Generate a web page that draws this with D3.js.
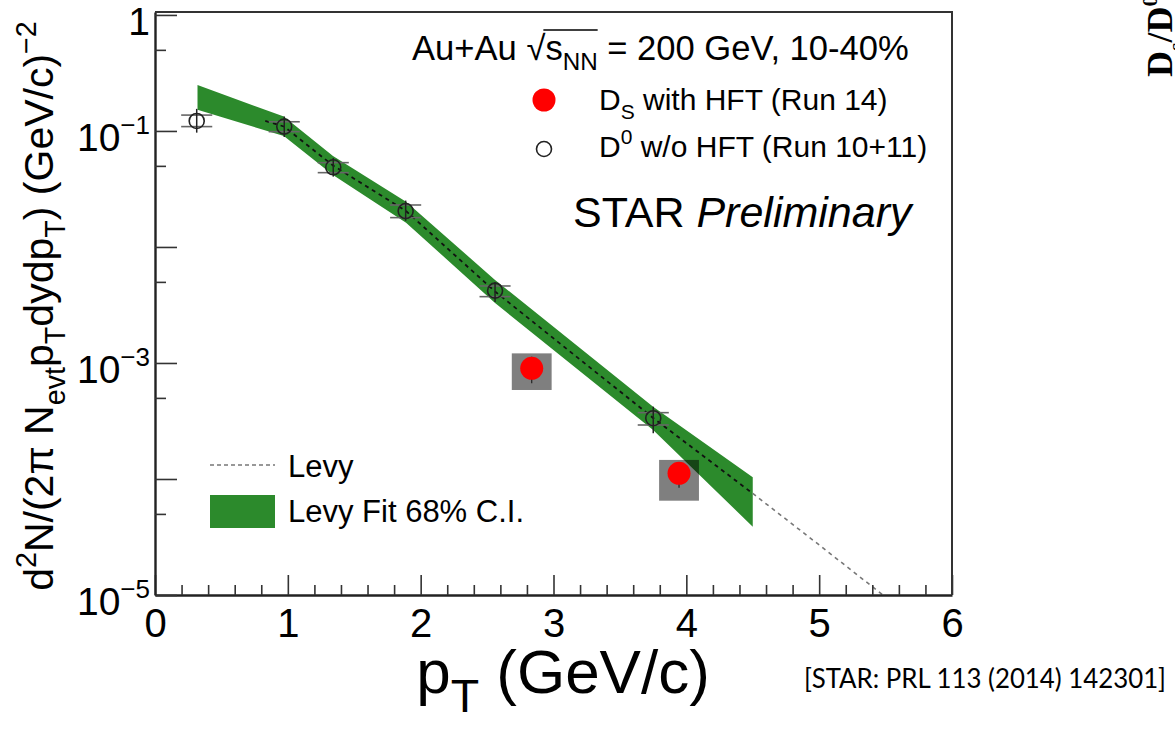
<!DOCTYPE html>
<html>
<head>
<meta charset="utf-8">
<script src="https://cdn.jsdelivr.net/npm/d3@7"></script>
<style>
  body { margin: 0; background: #fff; }
  svg { display: block; background: #fff; }
</style>
</head>
<body>
<svg id="chart" width="1175" height="730"></svg>
<script>
// ---- D0 without HFT (Run 10+11): open circles ----
const d0Pt      = [0.314, 0.973, 1.342, 1.887, 2.560, 3.751];
const d0Val     = [0.122, 0.109, 0.0486, 0.0204, 0.00420, 3.34e-4];
const d0StatHi  = [0.155, 0.133, 0.0585, 0.0251, 0.00499, 4.20e-4];
const d0StatLo  = [0.0967, 0.0886, 0.0404, 0.0168, 0.00336, 2.48e-4];
const d0SysHi   = [0.137, 0.120, 0.0533, 0.0230, 0.00461, 3.73e-4];
const d0SysLo   = [0.109, 0.0986, 0.0437, 0.0179, 0.00373, 2.92e-4];

// ---- Ds with HFT (Run 14): red dots with systematic boxes ----
const dsPt      = [2.836, 3.945];
const dsVal     = [9.0e-4, 1.12e-4];
const dsStatHi  = [1.13e-3, 1.40e-4];
const dsStatLo  = [6.7e-4, 8.4e-5];
const dsSysHi   = [1.21e-3, 1.46e-4];
const dsSysLo   = [5.85e-4, 6.5e-5];

// ---- Levy fit: 68% confidence band ----
const bandPt    = [0.32, 0.97, 1.34, 1.89, 2.56, 3.75, 4.5];
const bandHi    = [0.249, 0.133, 0.0609, 0.0245, 0.00520, 4.20e-4, 1.035e-4];
const bandLo    = [0.152, 0.0905, 0.0418, 0.0162, 0.00329, 2.64e-4, 3.88e-5];

// ---- Levy function curve ----
const levyPt    = [0.83, 0.97, 1.34, 1.89, 2.56, 3.1, 3.75, 4.5, 5.0, 5.48];
const levyVal   = [0.122, 0.1093, 0.0504, 0.0204, 0.00413, 1.32e-3, 3.36e-4, 7.5e-5, 2.7e-5, 1.0e-5];

// ---- axes ----
const xTicks      = [0, 1, 2, 3, 4, 5, 6];
const xTickLabels = ["0", "1", "2", "3", "4", "5", "6"];
const yTicks      = [1, 1e-1, 1e-2, 1e-3, 1e-4, 1e-5];
const yMinorTicks = [0.5, 0.05, 0.005, 5e-4, 5e-5];
const yLabelVals  = [1, 1e-1, 1e-3, 1e-5];
const yLabelExp   = [null, "\u22121", "\u22123", "\u22125"];

const FONT = '"Liberation Sans", Arial, Helvetica, sans-serif';
const GREEN = "#2c8a2c";

const svg = d3.select("#chart");
const box = { left: 155, right: 952, top: 12, bottom: 595 };

const x = d3.scaleLinear().domain([0, 6]).range([box.left, box.right]);
const y = d3.scaleLog().domain([1e-5, 1.06]).range([box.bottom, box.top]);

svg.append("defs").append("clipPath").attr("id", "plotClip")
  .append("rect")
  .attr("x", box.left).attr("y", box.top)
  .attr("width", box.right - box.left).attr("height", box.bottom - box.top);

// rich text helper: parts = [[text, "sub"|"sup"|undefined], ...]
function rich(sel, parts, fs, ratio = 0.7) {
  let cur = 0;
  parts.forEach(([t, kind]) => {
    const target = kind === "sup" ? -0.42 * fs : kind === "sub" ? 0.3 * fs : 0;
    sel.append("tspan")
      .attr("dy", target - cur)
      .attr("font-size", kind ? fs * ratio : fs)
      .text(t);
    cur = target;
  });
  return sel;
}

const plot = svg.append("g").attr("clip-path", "url(#plotClip)");

// confidence band
const bandData = bandPt.map((p, i) => ({ p, hi: bandHi[i], lo: bandLo[i] }));
plot.append("path")
  .datum(bandData)
  .attr("fill", GREEN)
  .attr("d", d3.area().x(d => x(d.p)).y0(d => y(d.lo)).y1(d => y(d.hi)));

// Ds systematic boxes (darken what lies beneath)
const dsData = dsPt.map((p, i) => ({
  p, v: dsVal[i], sh: dsSysHi[i], sl: dsSysLo[i], eh: dsStatHi[i], el: dsStatLo[i]
}));
const boxHalf = 0.15;
plot.selectAll("rect.sys").data(dsData).enter().append("rect")
  .attr("class", "sys")
  .attr("x", d => x(d.p - boxHalf))
  .attr("width", d => x(d.p + boxHalf) - x(d.p - boxHalf))
  .attr("y", d => y(d.sh))
  .attr("height", d => y(d.sl) - y(d.sh))
  .attr("fill", "#000").attr("fill-opacity", 0.5);

// Levy curve: dark inside the band, grey beyond it
const levyData = levyPt.map((p, i) => ({ p, v: levyVal[i] }));
const bandEnd = bandPt[bandPt.length - 1];
const line = d3.line().x(d => x(d.p)).y(d => y(d.v));
plot.append("path")
  .datum(levyData.filter(d => d.p <= bandEnd))
  .attr("fill", "none").attr("stroke", "#111").attr("stroke-width", 1.8)
  .attr("stroke-dasharray", "4,4").attr("d", line);
plot.append("path")
  .datum(levyData.filter(d => d.p >= bandEnd))
  .attr("fill", "none").attr("stroke", "#777").attr("stroke-width", 1.6)
  .attr("stroke-dasharray", "4,4").attr("d", line);

// D0 points
const d0Data = d0Pt.map((p, i) => ({
  p, v: d0Val[i], eh: d0StatHi[i], el: d0StatLo[i], sh: d0SysHi[i], sl: d0SysLo[i]
}));
const capHalf = 0.117;
const gD0 = plot.append("g");
d0Data.forEach(d => {
  ["sh", "sl"].forEach(k => {
    gD0.append("line")
      .attr("x1", x(d.p - capHalf)).attr("x2", x(d.p + capHalf))
      .attr("y1", y(d[k])).attr("y2", y(d[k]))
      .attr("stroke", "#666").attr("stroke-width", 1.6);
  });
  gD0.append("line")
    .attr("x1", x(d.p)).attr("x2", x(d.p))
    .attr("y1", y(d.eh)).attr("y2", y(d.el))
    .attr("stroke", "#222").attr("stroke-width", 1.5);
  gD0.append("circle")
    .attr("cx", x(d.p)).attr("cy", y(d.v)).attr("r", 7.5)
    .attr("fill", "none").attr("stroke", "#222").attr("stroke-width", 1.6);
});

// Ds points
dsData.forEach(d => {
  plot.append("line")
    .attr("x1", x(d.p)).attr("x2", x(d.p))
    .attr("y1", y(d.eh)).attr("y2", y(d.el))
    .attr("stroke", "#222").attr("stroke-width", 1.2);
  plot.append("circle")
    .attr("cx", x(d.p)).attr("cy", y(d.v)).attr("r", 11.5)
    .attr("fill", "#ff0000");
});

// ---- axes ----
const gx = svg.append("g")
  .attr("transform", `translate(0,${box.bottom})`)
  .call(d3.axisBottom(x).tickValues(xTicks).tickSize(-20).tickSizeOuter(0)
        .tickPadding(14).tickFormat((d, i) => xTickLabels[i]))
  .attr("font-family", FONT).attr("font-size", 40);
gx.selectAll(".tick line").attr("stroke", "#333").attr("stroke-width", 1.6);
gx.select(".domain").attr("stroke", "#222").attr("stroke-width", 2.4);
gx.selectAll(".tick text").attr("fill", "#000");

const xMinor = d3.range(0, 6.0001, 0.2).filter(v => Math.abs(v - Math.round(v)) > 1e-6);
const gxm = svg.append("g")
  .attr("transform", `translate(0,${box.bottom})`)
  .call(d3.axisBottom(x).tickValues(xMinor).tickSize(-10).tickFormat(() => ""));
gxm.select(".domain").remove();
gxm.selectAll(".tick line").attr("stroke", "#333").attr("stroke-width", 1.6);

const gy = svg.append("g")
  .attr("transform", `translate(${box.left},0)`)
  .call(d3.axisLeft(y).tickValues(yTicks).tickSize(-22).tickSizeOuter(0)
        .tickPadding(5).tickFormat(() => ""))
  .attr("font-family", FONT).attr("font-size", 39);
gy.selectAll(".tick line").attr("stroke", "#333").attr("stroke-width", 1.6);
gy.select(".domain").attr("stroke", "#222").attr("stroke-width", 2.4);
gy.selectAll(".tick text").each(function (d) {
  const idx = yLabelVals.findIndex(v => Math.abs(Math.log10(v) - Math.log10(d)) < 1e-6);
  if (idx < 0) return;
  const t = d3.select(this).attr("dy", "0.5em").attr("fill", "#000");
  if (yLabelExp[idx] === null) {
    t.text("1");
  } else {
    t.append("tspan").text("10");
    t.append("tspan").attr("dy", -17).attr("font-size", 26).text(yLabelExp[idx]);
  }
});

const gym = svg.append("g")
  .attr("transform", `translate(${box.left},0)`)
  .call(d3.axisLeft(y).tickValues(yMinorTicks).tickSize(-11).tickFormat(() => ""));
gym.select(".domain").remove();
gym.selectAll(".tick line").attr("stroke", "#333").attr("stroke-width", 1.6);

// top and right frame
svg.append("path")
  .attr("d", `M${box.left},${box.top}H${box.right}V${box.bottom}`)
  .attr("fill", "none").attr("stroke", "#333").attr("stroke-width", 2);

// ---- axis titles ----
rich(svg.append("text")
  .attr("font-family", FONT).attr("text-anchor", "middle")
  .attr("transform", "translate(53,306) rotate(-90)"),
  [["d"], ["2", "sup"], ["N/(2\u03c0 N"], ["evt", "sub"], ["p"], ["T", "sub"],
   ["dydp"], ["T", "sub"], [") (GeV/c)"], ["\u22122", "sup"]], 41);

rich(svg.append("text")
  .attr("font-family", FONT).attr("text-anchor", "middle")
  .attr("x", 563).attr("y", 693),
  [["p"], ["T", "sub"], [" (GeV/c)"]], 62, 0.75);

// ---- header and legend ----
const header = svg.append("text")
  .attr("font-family", FONT).attr("x", 412).attr("y", 60);
rich(header, [["Au+Au \u221A"], ["s"], ["NN", "sub"], [" = 200 GeV, 10-40%"]], 34.6);
{
  const node = header.node();
  const full = node.textContent;
  const i0 = full.indexOf("s");
  const i1 = full.indexOf("NN") + 1;
  const xs = node.getStartPositionOfChar(i0).x;
  const xe = node.getEndPositionOfChar(i1).x;
  svg.append("line")
    .attr("x1", xs - 2).attr("x2", xe)
    .attr("y1", 30).attr("y2", 30)
    .attr("stroke", "#000").attr("stroke-width", 1.5);
}

svg.append("circle").attr("cx", 544).attr("cy", 100).attr("r", 11.5).attr("fill", "#ff0000");
rich(svg.append("text").attr("font-family", FONT).attr("x", 599).attr("y", 110),
  [["D"], ["S", "sub"], [" with HFT (Run 14)"]], 30);

svg.append("circle").attr("cx", 544).attr("cy", 149).attr("r", 7.5)
  .attr("fill", "none").attr("stroke", "#222").attr("stroke-width", 1.6);
rich(svg.append("text").attr("font-family", FONT).attr("x", 599).attr("y", 157),
  [["D"], ["0", "sup"], [" w/o HFT (Run 10+11)"]], 30);

const star = svg.append("text").attr("font-family", FONT).attr("font-size", 43)
  .attr("x", 573).attr("y", 227);
star.append("tspan").text("STAR ");
star.append("tspan").attr("font-style", "italic").text("Preliminary");

svg.append("line").attr("x1", 210).attr("x2", 275).attr("y1", 465).attr("y2", 465)
  .attr("stroke", "#777").attr("stroke-width", 1.6).attr("stroke-dasharray", "4,3");
svg.append("text").attr("font-family", FONT).attr("font-size", 31)
  .attr("x", 288).attr("y", 477).text("Levy");
svg.append("rect").attr("x", 210).attr("y", 495).attr("width", 65).attr("height", 33)
  .attr("fill", GREEN);
svg.append("text").attr("font-family", FONT).attr("font-size", 31)
  .attr("x", 288).attr("y", 522).text("Levy Fit 68% C.I.");

// ---- reference and neighbouring label ----
svg.append("text")
  .attr("font-family", 'Lato, "Open Sans", sans-serif').attr("font-size", 27)
  .attr("x", 804).attr("y", 688)
  .attr("textLength", 362).attr("lengthAdjust", "spacingAndGlyphs")
  .text("[STAR: PRL 113 (2014) 142301]");

rich(svg.append("text")
  .attr("font-family", '"Liberation Serif", "Times New Roman", serif')
  .attr("font-weight", "bold")
  .attr("transform", "translate(1172,77) rotate(-90)"),
  [["D"], ["s", "sub"], ["/D"], ["0", "sup"]], 36, 0.6);
</script>
</body>
</html>
